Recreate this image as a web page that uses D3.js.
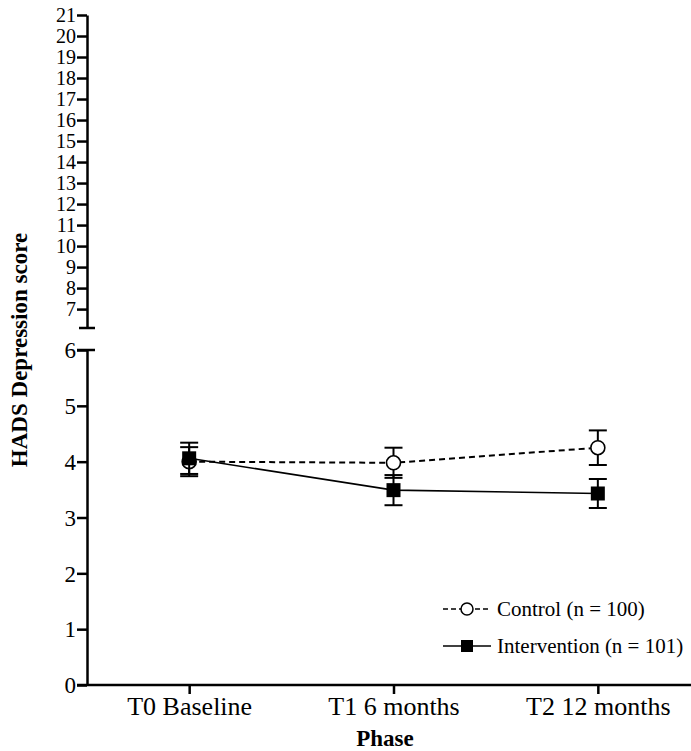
<!DOCTYPE html>
<html>
<head>
<meta charset="utf-8">
<script src="https://cdn.jsdelivr.net/npm/d3@7"></script>
<style>
  body { margin: 0; background: #fff; }
  svg text { font-family: "Liberation Serif", "Times New Roman", serif !important; fill: #000; }
</style>
</head>
<body>
<div id="chart"></div>
<script>
// data
var phases = ["T0 Baseline", "T1 6 months", "T2 12 months"];
var controlMean = [4.00, 3.98, 4.25];
var controlErr = [0.26, 0.27, 0.31];
var interventionMean = [4.06, 3.49, 3.43];
var interventionErr = [0.28, 0.27, 0.26];
var lowerTicks = [0, 1, 2, 3, 4, 5, 6];
var upperTicks = [7, 8, 9, 10, 11, 12, 13, 14, 15, 16, 17, 18, 19, 20, 21];
var legendLabels = ["Control (n = 100)", "Intervention (n = 101)"];

var serif = "Liberation Serif";

LineChart = function(_parentElement){
    this.parentElement = _parentElement;
    this.initVis();
};

LineChart.prototype.initVis = function(){
    var vis = this;
    vis.width = 691;
    vis.height = 751;
    vis.axisX = 87;

    vis.svg = d3.select(vis.parentElement).append("svg")
        .attr("width", vis.width)
        .attr("height", vis.height);

    // broken y axis: two segments, like the prism export
    vis.yLow = d3.scaleLinear().domain([0, 6]).range([685, 350]);
    vis.yHigh = d3.scaleLinear().domain([6.1, 21]).range([328, 15]);

    vis.x = d3.scalePoint()
        .domain(phases)
        .range([vis.axisX, 700])
        .padding(0.5);

    vis.drawAxes();
    vis.drawSeries();
    vis.drawLegend();
};

LineChart.prototype.drawAxes = function(){
    var vis = this;

    var lowAxis = d3.axisLeft(vis.yLow).tickValues(lowerTicks).tickFormat(d3.format("d"))
        .tickSize(10).tickSizeOuter(0);
    var highAxis = d3.axisLeft(vis.yHigh).tickValues(upperTicks).tickFormat(d3.format("d"))
        .tickSize(10).tickSizeOuter(0);

    var gl = vis.svg.append("g")
        .attr("transform", "translate(" + vis.axisX + ",0)")
        .call(lowAxis);
    var gh = vis.svg.append("g")
        .attr("transform", "translate(" + vis.axisX + ",0)")
        .call(highAxis);

    [gl, gh].forEach(function(g, i){
        g.attr("font-family", serif);
        g.select(".domain").attr("stroke-width", 2.5);
        g.selectAll(".tick line").attr("stroke-width", 2.5);
        g.selectAll(".tick text")
            .attr("x", -11)
            .attr("dy", "0.34em")
            .style("font-size", i === 0 ? "23px" : "20px");
    });

    // end caps at the break
    vis.svg.append("line")
        .attr("x1", vis.axisX - 8).attr("x2", vis.axisX + 8)
        .attr("y1", vis.yHigh(6.1)).attr("y2", vis.yHigh(6.1))
        .attr("stroke", "#000").attr("stroke-width", 2.5);
    vis.svg.append("line")
        .attr("x1", vis.axisX - 10).attr("x2", vis.axisX + 8)
        .attr("y1", vis.yLow(6)).attr("y2", vis.yLow(6))
        .attr("stroke", "#000").attr("stroke-width", 2.5);

    var xAxis = d3.axisBottom(vis.x).tickSize(9).tickSizeOuter(0);
    var gx = vis.svg.append("g")
        .attr("font-family", serif)
        .attr("transform", "translate(0," + vis.yLow(0) + ")")
        .call(xAxis);
    gx.select(".domain").attr("d", "M" + (vis.axisX - 10) + ",0H" + vis.width).attr("stroke-width", 2.5);
    gx.selectAll(".tick line").attr("stroke-width", 2.5);
    gx.selectAll(".tick text")
        .attr("y", 12)
        .style("font-size", "26px");

    vis.svg.append("text")
        .attr("x", 385).attr("y", 746)
        .attr("text-anchor", "middle")
        .style("font-size", "23px").style("font-weight", "bold")
        .text("Phase");

    vis.svg.append("text")
        .attr("transform", "translate(27,350) rotate(-90)")
        .attr("text-anchor", "middle")
        .style("font-size", "23px").style("font-weight", "bold")
        .text("HADS Depression score");
};

LineChart.prototype.drawSeries = function(){
    var vis = this;

    var series = [
        {name: "control", mean: controlMean, err: controlErr, dash: "6,4", marker: "circle"},
        {name: "intervention", mean: interventionMean, err: interventionErr, dash: null, marker: "square"}
    ];

    var line = d3.line()
        .x(function(d) { return vis.x(d.phase); })
        .y(function(d) { return vis.yLow(d.value); });

    series.forEach(function(s){
        var pts = phases.map(function(p, i) { return {phase: p, value: s.mean[i], err: s.err[i]}; });
        var g = vis.svg.append("g").attr("class", s.name);

        // error bars
        var eb = g.selectAll(".err").data(pts).enter().append("g").attr("class", "err");
        eb.append("line")
            .attr("x1", function(d) { return vis.x(d.phase); })
            .attr("x2", function(d) { return vis.x(d.phase); })
            .attr("y1", function(d) { return vis.yLow(d.value - d.err); })
            .attr("y2", function(d) { return vis.yLow(d.value + d.err); })
            .attr("stroke", "#000").attr("stroke-width", 2);
        [-1, 1].forEach(function(sign){
            eb.append("line")
                .attr("x1", function(d) { return vis.x(d.phase) - 9; })
                .attr("x2", function(d) { return vis.x(d.phase) + 9; })
                .attr("y1", function(d) { return vis.yLow(d.value + sign * d.err); })
                .attr("y2", function(d) { return vis.yLow(d.value + sign * d.err); })
                .attr("stroke", "#000").attr("stroke-width", 2);
        });

        g.append("path")
            .datum(pts)
            .attr("d", line)
            .attr("fill", "none")
            .attr("stroke", "#000")
            .attr("stroke-width", s.dash ? 2 : 1.6)
            .attr("stroke-dasharray", s.dash);

        if (s.marker === "circle") {
            g.selectAll(".pt").data(pts).enter().append("circle")
                .attr("cx", function(d) { return vis.x(d.phase); })
                .attr("cy", function(d) { return vis.yLow(d.value); })
                .attr("r", 7)
                .attr("fill", "#fff").attr("stroke", "#000").attr("stroke-width", 1.6);
        } else {
            g.selectAll(".pt").data(pts).enter().append("rect")
                .attr("x", function(d) { return vis.x(d.phase) - 7; })
                .attr("y", function(d) { return vis.yLow(d.value) - 7; })
                .attr("width", 14).attr("height", 14)
                .attr("fill", "#000");
        }
    });
};

LineChart.prototype.drawLegend = function(){
    var vis = this;
    var lg = vis.svg.append("g").attr("transform", "translate(443,609)");

    legendLabels.forEach(function(label, i){
        var row = lg.append("g").attr("transform", "translate(0," + (i * 37) + ")");
        row.append("line")
            .attr("x1", 0).attr("x2", 48).attr("y1", 0).attr("y2", 0)
            .attr("stroke", "#000").attr("stroke-width", 1.6)
            .attr("stroke-dasharray", i === 0 ? "5,3" : null);
        if (i === 0) {
            row.append("circle").attr("cx", 24).attr("cy", 0).attr("r", 6)
                .attr("fill", "#fff").attr("stroke", "#000").attr("stroke-width", 1.5);
        } else {
            row.append("rect").attr("x", 18).attr("y", -6).attr("width", 12).attr("height", 12)
                .attr("fill", "#000");
        }
        row.append("text")
            .attr("x", 54).attr("y", 7)
            .style("font-size", "21px")
            .text(label);
    });
};

var chart = new LineChart("#chart");
</script>
</body>
</html>
